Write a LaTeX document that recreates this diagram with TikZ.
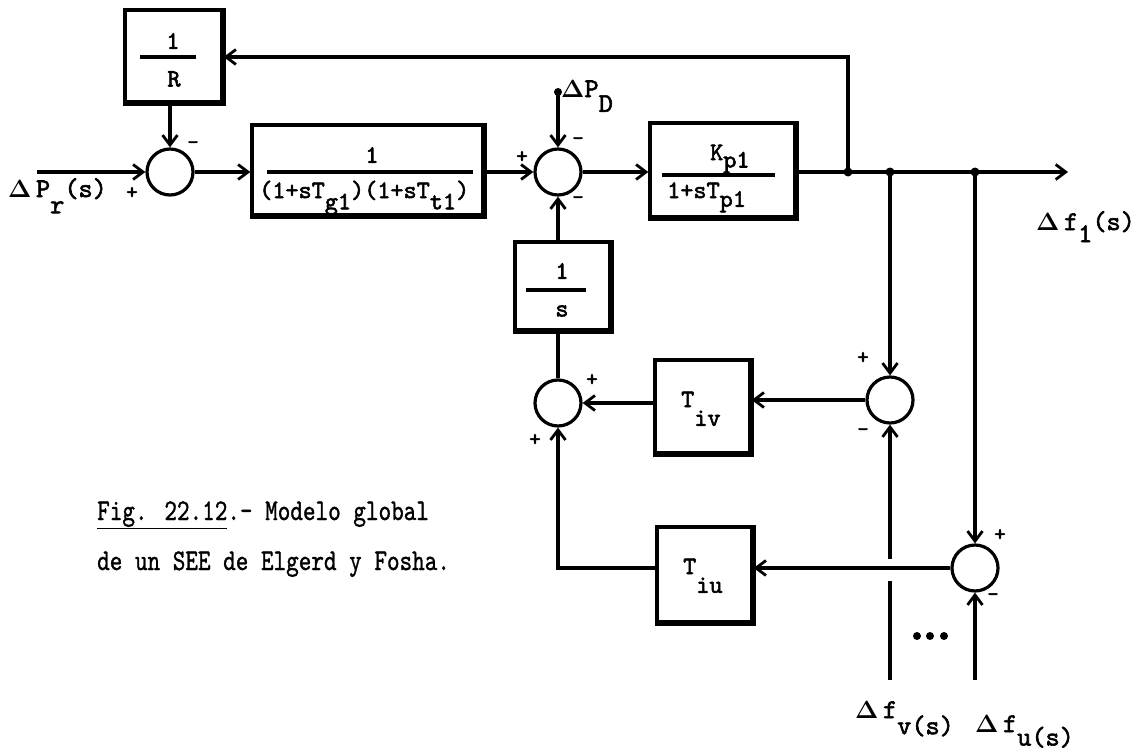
\documentclass[tikz,border=0pt]{standalone}
\usepackage{graphicx}
\usepackage[no-math]{fontspec}
\usetikzlibrary{arrows.meta}
\newfontfamily\twb{lmmono10-regular.otf}[FakeBold=2.2]
\newfontfamily\twc{lmmono10-regular.otf}[FakeBold=1.2]
\newcommand{\dn}[2][0.45em]{\raisebox{-#1}{#2}}
\newcommand{\Dl}{$\mathbf{\Delta}$}
\begin{document}
\begin{tikzpicture}[x=1pt,y=-1pt,
  ln/.style={line width=3.2pt},
  arr/.style={ln,-{Straight Barb[length=10pt,width=15pt,line width=2.8pt]}},
  blk/.style={draw,line width=3.2pt,inner sep=0pt},
  sumj/.style={draw,circle,line width=3.2pt,minimum size=46pt,inner sep=0pt},
  lbl/.style={font=\fontsize{27}{30}\twb,inner sep=0pt},
  btx/.style={font=\fontsize{25}{28}\twb,inner sep=0pt},
  sg/.style={font=\fontsize{22}{24}\twb,inner sep=0pt},
  captxt/.style={font=\fontsize{24}{28}\twc,inner sep=0pt},
  jdot/.style={circle,fill,inner sep=0pt,minimum size=9pt},
  fl/.style={line width=3.2pt},
  heavy/.style={line width=5pt}
]
\useasboundingbox (0,0) rectangle (1137,752);

% blocks and summing junctions
\node[blk,minimum width=97pt,minimum height=92pt] (R) at (173.5,56) {};
\node[sumj] (s1) at (170,172) {};
\node[blk,minimum width=231pt,minimum height=90pt] (G) at (367.5,170) {};
\node[sumj] (s2) at (558,172) {};
\node[blk,minimum width=145pt,minimum height=94pt] (P) at (722.5,170) {};
\node[blk,minimum width=95pt,minimum height=88pt] (I) at (562.5,286) {};
\node[sumj] (s3) at (558,403) {};
\node[blk,minimum width=95pt,minimum height=93pt] (V) at (702.5,406.5) {};
\node[blk,minimum width=95pt,minimum height=95pt] (U) at (704.5,574.5) {};
\node[sumj] (s4) at (890,400) {};
\node[sumj] (s5) at (975,568) {};

\foreach \b in {R,G,P,I,V,U}
  \draw[heavy] (\b.north east) -- (\b.south east) -- (\b.south west);

% block contents
\node[btx] (Rn) at (173,41) {1};
\draw[fl] (140,57) -- (196,57);
\node[btx] (Rd) at (174,79) {R};

\node[btx] (Gn) at (372,155) {1};
\draw[fl] (267,172) -- (473,172);
\node[btx,anchor=base west] (Gd) at (259,198) {(1+sT\dn{g1})(1+sT\dn{t1})};

\node[btx,anchor=base west] (Pn) at (710,160) {K\dn[0.3em]{p1}};
\draw[fl] (662,175) -- (775,175);
\node[btx,anchor=base west] (Pd) at (667,198) {1+sT\dn[0.35em]{p1}};

\node[btx] (In) at (562,271) {1};
\draw[fl] (526,290) -- (586,290);
\node[btx] (Id) at (562,311) {s};

\node[btx,anchor=base west] (Vt) at (681,407) {T\dn[0.75em]{iv}};
\node[btx,anchor=base west] (Ut) at (683,574) {T\dn[0.75em]{iu}};

% coordinates
\coordinate (in) at (37,172);
\coordinate (pd) at (558,92);
\coordinate (j1) at (848,172);
\coordinate (jv) at (890,172);
\coordinate (ju) at (975,172);
\coordinate (out) at (1068,172);
\coordinate (top) at (848,57);
\coordinate (fv) at (890,680);
\coordinate (fu) at (975,680);
\coordinate (gapa) at (890,581);
\coordinate (gapb) at (890,559);
\coordinate (corn) at (558,568);

% connectors
\draw[arr] (in) -- (s1.west);
\draw[arr] (R.south -| s1) -- (s1.north);
\draw[arr] (s1.east) -- (G.west |- s1);
\draw[arr] (G.east |- s2) -- (s2.west);
\draw[arr] (pd) -- (s2.north);
\draw[arr] (s2.east) -- (P.west |- s2);
\draw[arr] (P.east |- s2) -- (out);
\draw[arr] (j1) -- (top) -- (R.east |- top);
\draw[arr] (I.north -| s2) -- (s2.south);
\draw[ln] (s3.north) -- (I.south -| s3);
\draw[arr] (jv) -- (s4.north);
\draw[arr] (ju) -- (s5.north);
\draw[arr] (s4.west) -- (V.east |- s4);
\draw[arr] (V.west |- s3) -- (s3.east);
\draw[arr] (s5.west) -- (U.east |- s5);
\draw[arr] (U.west |- s5) -- (corn) -- (s3.south);
\draw[ln] (fv) -- (gapa);
\draw[arr] (gapb) -- (s4.south);
\draw[arr] (fu) -- (s5.south);

\node[jdot] (d1) at (j1) {};
\node[jdot] (dv) at (jv) {};
\node[jdot] (du) at (ju) {};
\node[jdot,minimum size=8pt] (dpd) at (pd) {};

% signs
\node[sg] (p1) at (132,193) {+};
\node[sg] (m1) at (193,145) {-};
\node[sg] (p2) at (522,157) {+};
\node[sg] (m2) at (578,141) {-};
\node[sg] (m3) at (578,200) {-};
\node[sg] (p3) at (592,380) {+};
\node[sg] (p4) at (535,440) {+};
\node[sg] (p5) at (863,358) {+};
\node[sg] (m5) at (863,432) {-};
\node[sg] (p6) at (1000,535) {+};
\node[sg] (m6) at (993,597) {-};

% labels
\node[lbl,anchor=base west] (Lpr) at (8,197) {\Dl\,P\dn[0.6em]{r}(s)};
\node[lbl,anchor=base west] (Lpd) at (561,97) {\Dl P\dn[0.55em]{D}};
\node[lbl,anchor=base west] (Lf1) at (1036,230) {\Dl\,f\dn[0.45em]{1}(s)};
\node[lbl,anchor=base west] (Lfv) at (855,718) {\Dl\,f\dn[0.6em]{v(s)}};
\node[lbl,anchor=base west] (Lfu) at (975,732) {\Dl\,f\dn[0.5em]{u(s)}};

% ellipsis dots
\node[jdot,minimum size=8pt] (e1) at (917,636) {};
\node[jdot,minimum size=8pt] (e2) at (930,636) {};
\node[jdot,minimum size=8pt] (e3) at (944,636) {};

% caption
\node[captxt,anchor=base west] (c1) at (97,520) {\scalebox{1}[1.25]{\underline{Fig. 22.12}.- Modelo global}};
\node[captxt,anchor=base west] (c2) at (97,570) {\scalebox{1}[1.25]{de un SEE de Elgerd y Fosha.}};
\end{tikzpicture}
\end{document}
